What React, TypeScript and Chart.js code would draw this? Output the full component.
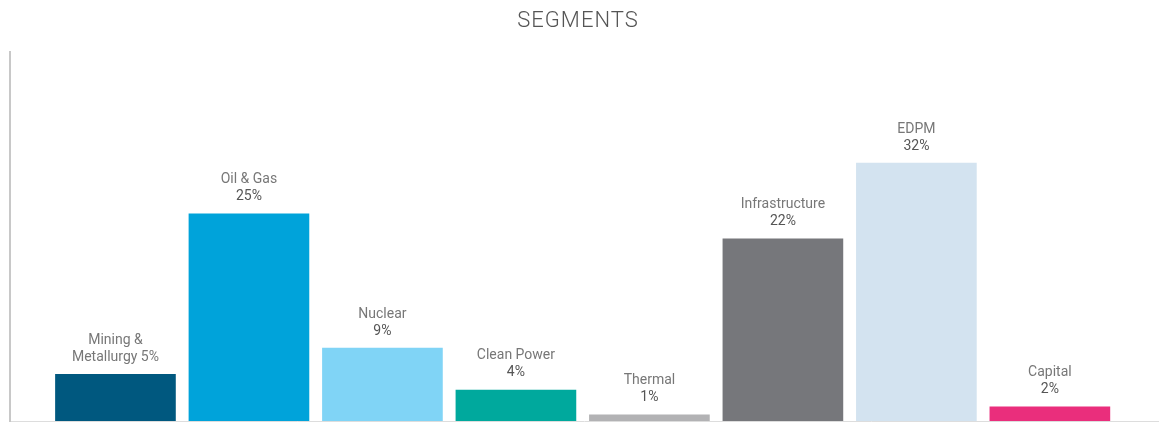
import React, { useEffect, useRef } from "react";
import { Chart, registerables } from "chart.js";

Chart.register(...registerables);

const chartTitle = "SEGMENTS";
const categories = ["Mining & Metallurgy", "Oil & Gas", "Nuclear", "Clean Power", "Thermal", "Infrastructure", "EDPM", "Capital"];
const barValues = [5.8, 25.7, 9.05, 3.85, 0.75, 22.6, 32, 1.75];
const labelLines = [
  ["Mining &", "Metallurgy 5%"],
  ["Oil & Gas", "25%"],
  ["Nuclear", "9%"],
  ["Clean Power", "4%"],
  ["Thermal", "1%"],
  ["Infrastructure", "22%"],
  ["EDPM", "32%"],
  ["Capital", "2%"],
];
const barColors = ["#00587f", "#00a3da", "#80d4f6", "#00a99d", "#b2b2b4", "#76777b", "#d3e3f0", "#ea2e7c"];

const FONT = "Roboto, 'Open Sans', sans-serif";

const labelPlugin = {
  id: "barLabels",
  afterDatasetsDraw(chart: any) {
    const ctx = chart.ctx;
    const meta = chart.getDatasetMeta(0);
    ctx.save();
    ctx.textAlign = "center";
    ctx.textBaseline = "middle";
    meta.data.forEach((el: any, i: number) => {
      const lines = labelLines[i];
      const n = lines.length;
      lines.forEach((line, j) => {
        const fromBottom = n - 1 - j;
        const y = el.y - 17 - fromBottom * 17;
        const isPct = j === n - 1 && /^\d+%$/.test(line);
        ctx.font = "400 14px " + FONT;
        ctx.fillStyle = isPct ? "#555555" : "#777777";
        ctx.fillText(line, el.x, y);
      });
    });
    // title
    ctx.font = "300 22px " + FONT;
    ctx.fillStyle = "#555555";
    (ctx as any).letterSpacing = "1px";
    ctx.fillText(chartTitle, 578, 21);
    ctx.restore();
  },
};

export default function App() {
  const canvasRef = useRef<HTMLCanvasElement | null>(null);

  useEffect(() => {
    if (!canvasRef.current) return;
    const chart = new Chart(canvasRef.current, {
      type: "bar",
      data: {
        labels: categories,
        datasets: [
          {
            data: barValues.map((v, i) => ({ x: i, y: v })),
            backgroundColor: barColors,
            borderWidth: 0,
            barThickness: 120,
          } as any,
        ],
      },
      options: {
        animation: false,
        responsive: true,
        maintainAspectRatio: false,
        layout: { padding: { left: 10, right: 7, top: 52, bottom: 2 } },
        plugins: {
          legend: { display: false },
          tooltip: { enabled: false },
          title: { display: false },
        },
        scales: {
          x: {
            type: "linear",
            offset: false,
            min: -0.79,
            max: 7.81,
            ticks: { display: false, stepSize: 1 },
            grid: { display: false, drawTicks: false },
            border: { display: true, color: "#dddddd", width: 1 },
          },
          y: {
            min: 0,
            max: 45.77,
            ticks: { display: false },
            grid: { display: false, drawTicks: false },
            border: { display: true, color: "#c8c8c8", width: 2 },
          },
        },
      },
      plugins: [labelPlugin],
    });
    return () => chart.destroy();
  }, []);

  return (
    <div style={{ position: "absolute", left: 0, top: 0, width: 1165, height: 423, background: "#ffffff" }}>
      <canvas ref={canvasRef} />
    </div>
  );
}
